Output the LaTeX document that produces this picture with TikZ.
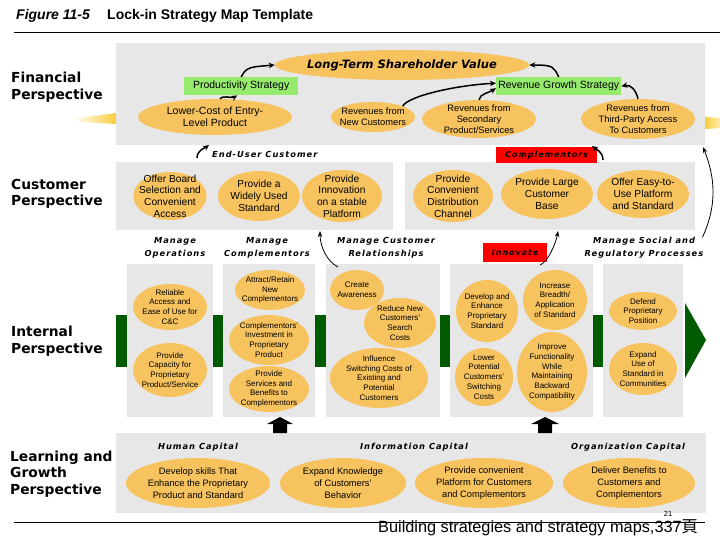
\documentclass[tikz,border=0pt]{standalone}
\usepackage{fontspec}
\setmainfont{Liberation Sans}
\newfontfamily\heavy{DejaVu Sans}
\newfontfamily\heavysp[LetterSpace=12]{DejaVu Sans}
\newfontfamily\cjk{Noto Sans CJK SC}
\usetikzlibrary{shapes.geometric,arrows.meta}
\definecolor{pgray}{RGB}{231,231,231}
\definecolor{ellc}{RGB}{247,195,95}
\definecolor{lgreen}{RGB}{150,235,110}
\definecolor{dgreen}{RGB}{0,90,0}
\definecolor{fred}{RGB}{255,0,0}
\definecolor{fadey}{RGB}{250,205,60}
\begin{document}
\begin{tikzpicture}[x=1pt,y=-1pt,
  panel/.style={rectangle, fill=pgray, draw=none, anchor=north west, inner sep=0pt},
  ell/.style={ellipse, fill=ellc, draw=none, inner sep=-5pt, align=center},
  ellA/.style={ell, font=\fontsize{10.5}{12}\selectfont},
  ellB/.style={ell, font=\fontsize{9.3}{11}\selectfont},
  ellC/.style={ell, font=\fontsize{10.2}{11.7}\selectfont},
  ellD/.style={ell, font=\fontsize{8}{9.8}\selectfont},
  ellE/.style={ell, font=\fontsize{9.3}{11.8}\selectfont},
  persp/.style={anchor=west, align=left, inner sep=0pt, font=\heavy\bfseries\fontsize{13.8}{16.5}\selectfont},
  lbl/.style={inner sep=0pt, align=center, font=\heavysp\bfseries\itshape\fontsize{8.3}{13}\selectfont},
  gbox/.style={rectangle, fill=lgreen, inner sep=0pt, anchor=north west},
  rbox/.style={rectangle, fill=fred, inner sep=0pt, anchor=north west, font=\heavysp\bfseries\itshape\fontsize{8}{10}\selectfont},
  farr/.style={draw=black, line width=1.5pt, -{Stealth[length=6pt,width=5.5pt]}},
  tarr/.style={draw=black, line width=0.8pt, -{Stealth[length=6pt,width=4.5pt]}},
  rule/.style={draw=black, line width=0.9pt}
]
\useasboundingbox (0,0) rectangle (720,540);
\fill[white] (0,0) rectangle (720,540);

% title
\node[anchor=base west, inner sep=0pt, font=\bfseries\itshape\fontsize{14}{16}\selectfont] (fig) at (16,20) {Figure 11-5};
\node[anchor=base west, inner sep=0pt, font=\bfseries\fontsize{14}{16}\selectfont] (ttl) at (107,20) {Lock-in Strategy Map Template};
\coordinate (r1a) at (14,32); \coordinate (r1b) at (720,32);
\draw[rule] (r1a) -- (r1b);

% perspective labels
\node[persp] (pfin) at (11,87) {Financial\\Perspective};
\node[persp] (pcus) at (11,194) {Customer\\Perspective};
\node[persp] (pint) at (11,341) {Internal\\Perspective};
\node[persp] (plg) at (10,474) {Learning and\\Growth\\Perspective};

% panels
\node[panel, minimum width=589pt, minimum height=102pt] (finp) at (116,43) {};
\node[panel, minimum width=277pt, minimum height=68pt] (custl) at (116,162) {};
\node[panel, minimum width=290pt, minimum height=68pt] (custr) at (405,162) {};
\node[panel, minimum width=86pt, minimum height=153pt] (ip1) at (127,264) {};
\node[panel, minimum width=92pt, minimum height=153pt] (ip2) at (223,264) {};
\node[panel, minimum width=114pt, minimum height=153pt] (ip3) at (326,264) {};
\node[panel, minimum width=143pt, minimum height=153pt] (ip4) at (450,264) {};
\node[panel, minimum width=80pt, minimum height=153pt] (ip5) at (603,264) {};
\node[panel, minimum width=590pt, minimum height=80pt] (lgp) at (116,433) {};

% yellow fades
\shade[left color=white, right color=fadey] (72,119) -- (116,113) -- (116,124) -- (80,122) -- cycle;
\shade[left color=fadey, right color=fadey!40!white] (705,117) -- (720,118) -- (720,128) -- (705,129) -- cycle;

% green bars and arrow
\fill[dgreen] (116,315) rectangle (127,367);
\fill[dgreen] (213,315) rectangle (223,367);
\fill[dgreen] (315,315) rectangle (326,367);
\fill[dgreen] (440,315) rectangle (450,367);
\fill[dgreen] (593,315) rectangle (603,367);
\fill[dgreen] (685,303) -- (706,340) -- (685,378) -- cycle;

% big black up arrows
\fill[black] (273,433) -- (273,424) -- (267,424) -- (280,417) -- (293,424) -- (287,424) -- (287,433) -- cycle;
\fill[black] (538,433) -- (538,424) -- (531,424) -- (545,417) -- (559,424) -- (552,424) -- (552,433) -- cycle;

% financial
\node[ell, minimum width=210pt, minimum height=30pt, font=\heavy\bfseries\itshape\fontsize{11.5}{13}\selectfont] (lt) at (402,65) {Long-Term Shareholder Value};
\node[gbox, minimum width=114pt, minimum height=18pt, font=\fontsize{10.5}{11}\selectfont] (prod) at (184,77) {Productivity Strategy};
\node[gbox, minimum width=125pt, minimum height=18pt, font=\fontsize{10.5}{11}\selectfont] (rg) at (496,77) {Revenue Growth Strategy};
\node[ellA, minimum width=154pt, minimum height=36pt] (lower) at (215,117) {Lower-Cost of Entry-\\Level Product};
\node[ellB, minimum width=84pt, minimum height=30pt] (rnc) at (373,117) {Revenues from\\New Customers};
\node[ellB, minimum width=114pt, minimum height=38pt] (rsec) at (479,119) {Revenues from\\Secondary\\Product/Services};
\node[ellB, minimum width=114pt, minimum height=40pt] (rtp) at (638,119) {Revenues from\\Third-Party Access\\To Customers};

\draw[farr] (prod.north) .. controls +(5,-10) and +(-25,2) .. (lt.west);
\draw[farr] (lower.75) .. controls +(2,-4) and +(-5,3) .. ([xshift=-4pt]prod.south);
\draw[farr] (rg.north) .. controls +(-5,-10) and +(25,0) .. (lt.east);
\draw[farr] (rnc.20) .. controls +(5,-10) and +(-40,2) .. ([yshift=3pt]rg.west);
\draw[farr] (rsec.north) .. controls +(1,-6) and +(-8,5) .. ([yshift=-2pt]rg.west);
\draw[farr] (rtp.north) .. controls +(-2,-8) and +(10,-2) .. (rg.east);

% customer
\node[lbl, anchor=west] (eu) at (212,154) {End-User Customer};
\node[rbox, minimum width=101pt, minimum height=16pt] (comp) at (496,147) {Complementors};
\coordinate (eua) at (197,158); \coordinate (eub) at (209,145);
\coordinate (cpa) at (603,160); \coordinate (cpb) at (592,146);
\draw[farr] (eua) .. controls +(0,-8) and +(-4,3) .. (eub);
\draw[farr] (cpa) .. controls +(0,-8) and +(4,3) .. (cpb);

\node[ellC, minimum width=70pt, minimum height=48pt] (c1) at (170,196) {Offer Board\\Selection and\\Convenient\\Access};
\node[ellC, minimum width=82pt, minimum height=50pt] (c2) at (259,196) {Provide a\\Widely Used\\Standard};
\node[ellC, minimum width=80pt, minimum height=52pt] (c3) at (342,196) {Provide\\Innovation\\on a stable\\Platform};
\node[ellC, minimum width=80pt, minimum height=52pt] (c4) at (453,196) {Provide\\Convenient\\Distribution\\Channel};
\node[ellC, minimum width=92pt, minimum height=50pt] (c5) at (547,194) {Provide Large\\Customer\\Base};
\node[ellC, minimum width=92pt, minimum height=48pt] (c6) at (643,194) {Offer Easy-to-\\Use Platform\\and Standard};

% internal labels
\node[lbl] (mop) at (175,248) {Manage\\Operations};
\node[lbl] (mco) at (267,248) {Manage\\Complementors};
\node[lbl] (mcr) at (386,248) {Manage Customer\\Relationships};
\node[rbox, minimum width=64pt, minimum height=19pt] (inn) at (483,243) {Innovate};
\node[lbl] (msr) at (644,248) {Manage Social and\\Regulatory Processes};

\coordinate (ina) at (540,265); \coordinate (inb) at (558,231);
\coordinate (cra) at (338,267); \coordinate (crb) at (320,231);
\coordinate (socb) at (703,147);
\draw[tarr] (ina) .. controls +(8,-3) and +(-2,12) .. (inb);
\draw[tarr] (cra) .. controls +(-12,-6) and +(0,14) .. (crb);
\draw[tarr] ([xshift=-1pt]msr.north east) .. controls +(16,-35) and +(11,28) .. (socb);

% internal ellipses
\node[ellD, minimum width=74pt, minimum height=46pt] (i1) at (170,307) {Reliable\\Access and\\Ease of Use for\\C\&C};
\node[ellD, minimum width=74pt, minimum height=54pt] (i2) at (170,370) {Provide\\Capacity for\\Proprietary\\Product/Service};
\node[ellD, minimum width=70pt, minimum height=40pt] (i3) at (270,290) {Attract/Retain\\New\\Complementors};
\node[ellD, minimum width=80pt, minimum height=50pt] (i4) at (269,340) {Complementors'\\Investment in\\Proprietary\\Product};
\node[ellD, minimum width=80pt, minimum height=46pt] (i5) at (269,389) {Provide\\Services and\\Benefits to\\Complementors};
\node[ellD, minimum width=54pt, minimum height=40pt] (i6) at (357,290) {Create\\Awareness};
\node[ellD, minimum width=72pt, minimum height=50pt] (i7) at (400,323) {Reduce New\\Customers'\\Search\\Costs};
\node[ellD, minimum width=98pt, minimum height=60pt] (i8) at (379,378) {Influence\\Switching Costs of\\Existing and\\Potential\\Customers};
\node[ellD, minimum width=62pt, minimum height=62pt] (i9) at (487,311) {Develop and\\Enhance\\Proprietary\\Standard};
\node[ellD, minimum width=64pt, minimum height=60pt] (i10) at (555,300) {Increase\\Breadth/\\Application\\of Standard};
\node[ellD, minimum width=58pt, minimum height=58pt] (i11) at (484,377) {Lower\\Potential\\Customers'\\Switching\\Costs};
\node[ellD, minimum width=70pt, minimum height=80pt] (i12) at (552,372) {Improve\\Functionality\\While\\Maintaining\\Backward\\Compatibility};
\node[ellD, minimum width=68pt, minimum height=38pt] (i13) at (643,311) {Defend\\Proprietary\\Position};
\node[ellD, minimum width=68pt, minimum height=52pt] (i14) at (643,369) {Expand\\Use of\\Standard in\\Communities};

% learning and growth
\node[lbl] (hc) at (198,447) {Human Capital};
\node[lbl] (ic) at (414,447) {Information Capital};
\node[lbl] (oc) at (628,447) {Organization Capital};
\node[ellE, minimum width=144pt, minimum height=50pt] (l1) at (198,483) {Develop skills That\\Enhance the Proprietary\\Product and Standard};
\node[ellE, minimum width=126pt, minimum height=50pt] (l2) at (343,483) {Expand Knowledge\\of Customers'\\Behavior};
\node[ellE, minimum width=138pt, minimum height=50pt] (l3) at (484,483) {Provide convenient\\Platform for Customers\\and Complementors};
\node[ellE, minimum width=132pt, minimum height=50pt] (l4) at (629,483) {Deliver Benefits to\\Customers and\\Complementors};

% footer
\node[anchor=base west, inner sep=0pt, font=\fontsize{16.3}{18}\selectfont] (foot) at (378,532) {Building strategies and strategy maps,337{\cjk 頁}};
\node[inner sep=0pt, font=\fontsize{7.5}{9}\selectfont] (pgn) at (668,514) {21};
\coordinate (r2a) at (14,522); \coordinate (r2b) at (705,522);
\draw[rule] (r2a) -- (r2b);
\end{tikzpicture}
\end{document}
